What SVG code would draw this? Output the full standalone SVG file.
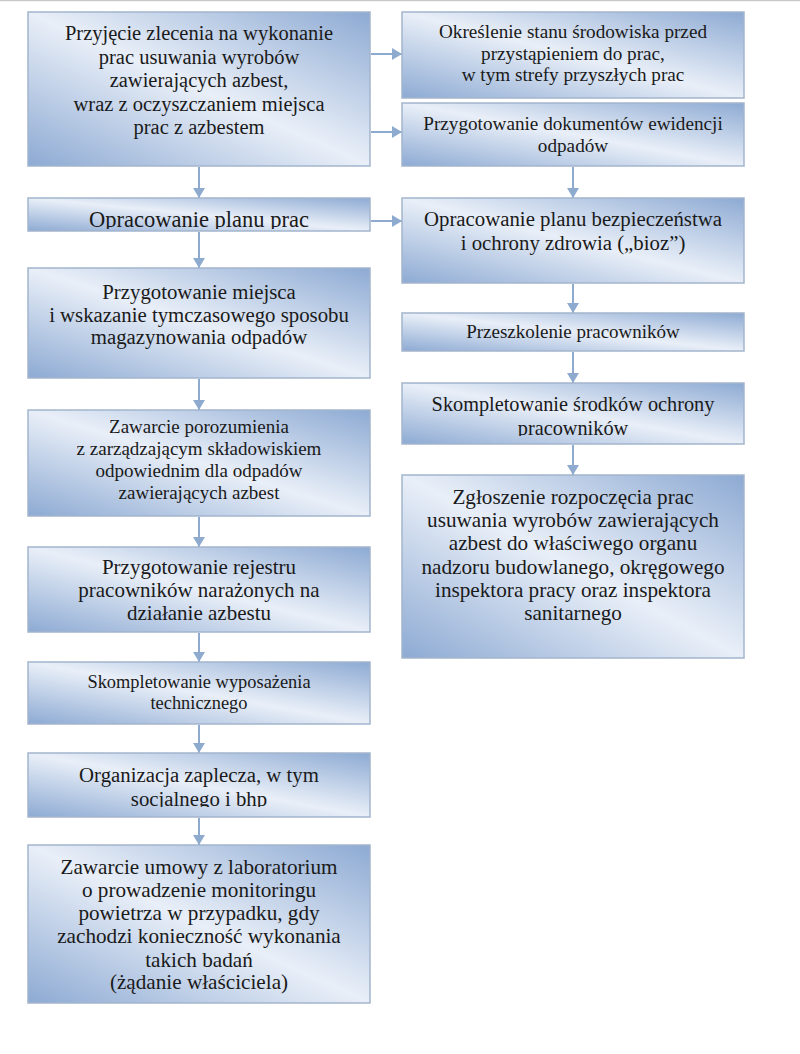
<svg xmlns="http://www.w3.org/2000/svg" width="800" height="1054" viewBox="0 0 800 1054">
<style>
.box{fill:url(#g);stroke:#a3b5cd;stroke-width:1.5}
.t{fill:#1a1a1a;text-anchor:middle}
.con{stroke:#8eabcf;stroke-width:2;fill:none;marker-end:url(#ah)}
</style>
<defs>
<linearGradient id="g" x1="0" y1="1" x2="1" y2="0">
<stop offset="0" stop-color="#8daad3"/>
<stop offset="0.5" stop-color="#e9eff8"/>
<stop offset="1" stop-color="#8daad3"/>
</linearGradient>
<marker id="ah" markerUnits="userSpaceOnUse" markerWidth="12" markerHeight="12" refX="10" refY="6" orient="auto">
<path d="M0,0 L10,6 L0,12 z" fill="#8eabcf"/>
</marker>
<clipPath id="c2"><rect x="28" y="198" width="342" height="31"/></clipPath>
<clipPath id="c7"><rect x="28" y="753" width="342" height="54"/></clipPath>
<clipPath id="c11"><rect x="402" y="383" width="342" height="53"/></clipPath>
</defs>
<rect width="800" height="1054" fill="#ffffff"/>
<line x1="0" y1="0.5" x2="800" y2="0.5" stroke="#c8c8c8" stroke-width="1.5"/>

<g id="connectors">
<line class="con" x1="371" y1="54" x2="402" y2="54"/>
<line class="con" x1="371" y1="132" x2="402" y2="132"/>
<line class="con" x1="371" y1="221" x2="402" y2="221"/>
<line class="con" x1="199" y1="167" x2="199" y2="198"/>
<line class="con" x1="199" y1="232" x2="199" y2="268"/>
<line class="con" x1="199" y1="379" x2="199" y2="410"/>
<line class="con" x1="199" y1="517" x2="199" y2="547"/>
<line class="con" x1="199" y1="633" x2="199" y2="662"/>
<line class="con" x1="199" y1="725" x2="199" y2="753"/>
<line class="con" x1="199" y1="818" x2="199" y2="845"/>
<line class="con" x1="573" y1="167" x2="573" y2="198"/>
<line class="con" x1="573" y1="284" x2="573" y2="313"/>
<line class="con" x1="573" y1="352" x2="573" y2="383"/>
<line class="con" x1="573" y1="445" x2="573" y2="475"/>
</g>

<g font-family="'Liberation Serif', 'DejaVu Serif', serif">
<g id="n1">
<rect class="box" x="28" y="12" width="342" height="154"/>
<text class="t" font-size="20.5"><tspan x="199" y="40">Przyjęcie zlecenia na wykonanie</tspan><tspan x="199" y="63.5">prac usuwania wyrobów</tspan><tspan x="199" y="87">zawierających azbest,</tspan><tspan x="199" y="110.5">wraz z oczyszczaniem miejsca</tspan><tspan x="199" y="134">prac z azbestem</tspan></text>
</g>
<g id="n2">
<rect class="box" x="28" y="198" width="342" height="33"/>
<text class="t" font-size="22.5" clip-path="url(#c2)"><tspan x="199" y="227">Opracowanie planu prac</tspan></text>
</g>
<g id="n3">
<rect class="box" x="28" y="268" width="342" height="110"/>
<text class="t" font-size="20.8"><tspan x="199" y="299">Przygotowanie miejsca</tspan><tspan x="199" y="322">i wskazanie tymczasowego sposobu</tspan><tspan x="199" y="344">magazynowania odpadów</tspan></text>
</g>
<g id="n4">
<rect class="box" x="28" y="410" width="342" height="106"/>
<text class="t" font-size="19"><tspan x="199" y="433">Zawarcie porozumienia</tspan><tspan x="199" y="455">z zarządzającym składowiskiem</tspan><tspan x="199" y="477">odpowiednim dla odpadów</tspan><tspan x="199" y="499">zawierających azbest</tspan></text>
</g>
<g id="n5">
<rect class="box" x="28" y="547" width="342" height="85"/>
<text class="t" font-size="21"><tspan x="199" y="574">Przygotowanie rejestru</tspan><tspan x="199" y="597">pracowników narażonych na</tspan><tspan x="199" y="620">działanie azbestu</tspan></text>
</g>
<g id="n6">
<rect class="box" x="28" y="662" width="342" height="62"/>
<text class="t" font-size="18.4"><tspan x="199" y="688">Skompletowanie wyposażenia</tspan><tspan x="199" y="709">technicznego</tspan></text>
</g>
<g id="n7">
<rect class="box" x="28" y="753" width="342" height="64"/>
<text class="t" font-size="20.8" clip-path="url(#c7)"><tspan x="199" y="782">Organizacja zaplecza, w tym</tspan><tspan x="199" y="806">socjalnego i bhp</tspan></text>
</g>
<g id="n8">
<rect class="box" x="28" y="845" width="342" height="158"/>
<text class="t" font-size="21.2"><tspan x="199" y="874">Zawarcie umowy z laboratorium</tspan><tspan x="199" y="897">o prowadzenie monitoringu</tspan><tspan x="199" y="920">powietrza w przypadku, gdy</tspan><tspan x="199" y="943">zachodzi konieczność wykonania</tspan><tspan x="199" y="967">takich badań</tspan><tspan x="199" y="989">(żądanie właściciela)</tspan></text>
</g>

<g id="n9">
<rect class="box" x="402" y="12" width="342" height="86"/>
<text class="t" font-size="19.2"><tspan x="573" y="38">Określenie stanu środowiska przed</tspan><tspan x="573" y="60">przystąpieniem do prac,</tspan><tspan x="573" y="81">w tym strefy przyszłych prac</tspan></text>
</g>
<g id="n10">
<rect class="box" x="402" y="103" width="342" height="63"/>
<text class="t" font-size="19.2"><tspan x="573" y="130">Przygotowanie dokumentów ewidencji</tspan><tspan x="573" y="152">odpadów</tspan></text>
</g>
<g id="n11">
<rect class="box" x="402" y="198" width="342" height="85"/>
<text class="t" font-size="20.8"><tspan x="573" y="226">Opracowanie planu bezpieczeństwa</tspan><tspan x="573" y="250">i ochrony zdrowia („bioz”)</tspan></text>
</g>
<g id="n12">
<rect class="box" x="402" y="313" width="342" height="38"/>
<text class="t" font-size="19"><tspan x="573" y="338">Przeszkolenie pracowników</tspan></text>
</g>
<g id="n13">
<rect class="box" x="402" y="383" width="342" height="61"/>
<text class="t" font-size="20.3" clip-path="url(#c11)"><tspan x="573" y="411">Skompletowanie środków ochrony</tspan><tspan x="573" y="435">pracowników</tspan></text>
</g>
<g id="n14">
<rect class="box" x="402" y="475" width="342" height="183"/>
<text class="t" font-size="21.2"><tspan x="573" y="504">Zgłoszenie rozpoczęcia prac</tspan><tspan x="573" y="527">usuwania wyrobów zawierających</tspan><tspan x="573" y="550">azbest do właściwego organu</tspan><tspan x="573" y="574">nadzoru budowlanego, okręgowego</tspan><tspan x="573" y="597">inspektora pracy oraz inspektora</tspan><tspan x="573" y="620">sanitarnego</tspan></text>
</g>
</g>
</svg>
